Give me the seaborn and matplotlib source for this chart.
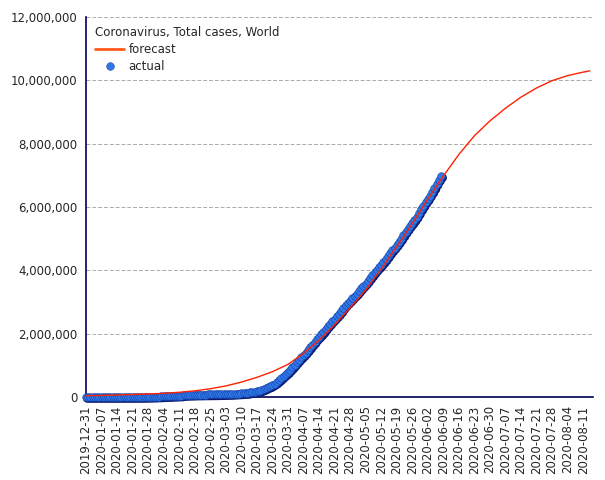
import pandas as pd
import matplotlib.pyplot as plt
import matplotlib.dates as mdates
import matplotlib.transforms as mtransforms
from matplotlib.ticker import FuncFormatter
import seaborn as sns

## data
# actual cumulative cases, one value per day from 2019-12-31 to 2020-06-08
actual_start = '2019-12-31'
actual_cases = [
    27, 27, 27, 44, 44, 59, 59, 59, 59, 59, 59, 59, 59, 60, 60, 61, 61, 66, 83, 219,
    239, 392, 534, 631, 897, 1350, 2023, 2820, 4587, 6067, 7823, 9826,
    11946, 14554, 17372, 20615, 24522, 28273, 31491, 34933, 37552, 40540,
    43105, 45177, 60328, 64543, 67103, 69265, 71332, 73327, 75191, 75723,
    76719, 77804, 78812, 79339, 80132, 80995, 82101, 83365, 85203,
    87024, 89068, 90664, 93077, 95316, 98172, 102133, 105824, 109695, 113561,
    118592, 125865, 128343, 145193, 156094, 167446, 181527, 197142, 214910, 242708,
    272166, 311000, 336000, 378000, 418000, 467000, 529000, 593000, 660000, 720000,
    782000,
    857000, 932000, 1013000, 1095000, 1176000, 1249000, 1321000, 1396000, 1479000, 1565000,
    1657000, 1735000, 1834000, 1904000, 1976000, 2056000, 2152000, 2240000, 2317000, 2401000,
    2472000, 2549000, 2623000, 2708000, 2811000, 2896000, 2971000, 3041000, 3116000, 3193000,
    3256000, 3343000, 3427000, 3506000, 3583000, 3662000, 3755000, 3845000, 3938000, 4024000,
    4101000, 4177000, 4261000, 4347000, 4442000, 4542000, 4634000, 4713000, 4801000, 4897000,
    4996000, 5102000, 5210000, 5310000, 5407000, 5495000, 5589000, 5691000, 5808000, 5930000,
    6040000,
    6153000, 6250000, 6363000, 6476000, 6600000, 6732000, 6858000, 6967000,
]

# forecast curve, read weekly (plus the last point)
forecast_dates = ['2019-12-31', '2020-01-07', '2020-01-14', '2020-01-21', '2020-01-28',
                  '2020-02-04', '2020-02-11', '2020-02-18', '2020-02-25', '2020-03-03',
                  '2020-03-10', '2020-03-17', '2020-03-24', '2020-03-31', '2020-04-07',
                  '2020-04-14', '2020-04-21', '2020-04-28', '2020-05-05', '2020-05-12',
                  '2020-05-19', '2020-05-26', '2020-06-02', '2020-06-09', '2020-06-16',
                  '2020-06-23', '2020-06-30', '2020-07-07', '2020-07-14', '2020-07-21',
                  '2020-07-28', '2020-08-04', '2020-08-11', '2020-08-14']
forecast_cases = [40000, 50000, 65000, 80000, 95000,
                  115000, 150000, 195000, 260000, 350000,
                  470000, 620000, 800000, 1030000, 1380000,
                  1800000, 2280000, 2820000, 3380000, 4050000,
                  4750000, 5480000, 6250000, 6980000, 7660000,
                  8250000, 8720000, 9120000, 9470000, 9760000,
                  9990000, 10150000, 10260000, 10300000]

tick_dates = pd.date_range('2019-12-31', '2020-08-11', freq='7D')
y_ticks = [0, 2000000, 4000000, 6000000, 8000000, 10000000, 12000000]

actual = pd.DataFrame({'date': pd.date_range(actual_start, periods=len(actual_cases)),
                       'cases': actual_cases})
forecast = pd.DataFrame({'date': pd.to_datetime(forecast_dates), 'cases': forecast_cases})

sns.set_style('white')
plt.rcParams['font.family'] = ['DejaVu Sans']
axis_col = '#000055'

fig = plt.figure(figsize=(6.05, 4.8), dpi=100)
ax = fig.add_axes([0.1421, 0.1729, 0.838, 0.7917])

# actual: dark shadow layer + blue sphere
shadow = mtransforms.offset_copy(ax.transData, fig=fig, x=1.0, y=-1.0, units='points')
sns.scatterplot(data=actual, x='date', y='cases', ax=ax, s=40, color='#0a1a70',
                edgecolor='none', transform=shadow, clip_on=False, zorder=3)
sns.scatterplot(data=actual, x='date', y='cases', ax=ax, s=30, color='#2f78e8',
                edgecolor='#1540a8', linewidth=0.4, clip_on=False, zorder=4, label='actual')
sns.lineplot(data=forecast, x='date', y='cases', ax=ax, color='#ff2200', linewidth=1.0,
             zorder=5, label='forecast')

ax.set_xlim(pd.Timestamp('2019-12-31'), pd.Timestamp('2019-12-31') + pd.Timedelta(days=228.4))
ax.set_ylim(0, 12000000)
ax.set_xticks(tick_dates)
ax.xaxis.set_major_formatter(mdates.DateFormatter('%Y-%m-%d'))
ax.set_yticks(y_ticks)
ax.yaxis.set_major_formatter(FuncFormatter(lambda v, p: f'{int(v):,}'))
ax.tick_params(axis='x', rotation=90, labelsize=8.5, length=4, width=1, color=axis_col, pad=2)
ax.tick_params(axis='y', labelsize=8.5, length=4, width=1, color=axis_col, pad=2)
ax.set_xlabel('')
ax.set_ylabel('')

for v in y_ticks[1:]:
    ax.axhline(v, color='#aaaaaa', linewidth=0.7, linestyle=(0, (4, 2)), zorder=1)

for side in ['top', 'right']:
    ax.spines[side].set_visible(False)
for side in ['left', 'bottom']:
    ax.spines[side].set_color(axis_col)
    ax.spines[side].set_linewidth(1.2)

handles, labels = ax.get_legend_handles_labels()
order = [labels.index('forecast'), labels.index('actual')]
leg = ax.legend([handles[i] for i in order], [labels[i] for i in order],
                title='Coronavirus, Total cases, World', loc='upper left', frameon=False,
                fontsize=8.5, title_fontsize=8.5, alignment='left',
                handlelength=2.4, handletextpad=0.4, borderaxespad=0.4, labelspacing=0.3)
leg.get_lines()[0].set_color('#ff5a1a')
leg.get_lines()[0].set_linewidth(2)

fig.savefig('out.png', dpi=100)
